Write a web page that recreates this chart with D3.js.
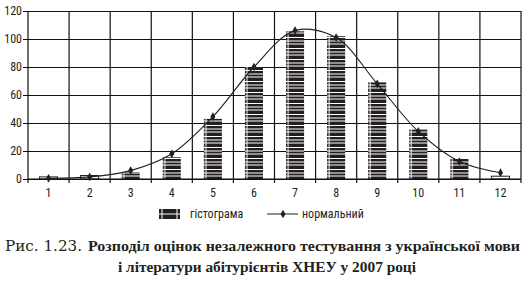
<!DOCTYPE html>
<html>
<head>
<meta charset="utf-8">
<script src="https://cdn.jsdelivr.net/npm/d3@7"></script>
<style>
  body { margin: 0; background: #fff; }
</style>
</head>
<body>
<svg id="chart"></svg>
<script>
const categories = ["1","2","3","4","5","6","7","8","9","10","11","12"];
const histValues = [1.5, 2.5, 5, 15.5, 43, 80, 105.5, 102, 69, 35.5, 15, 2];
const normalValues = [0.5, 1.5, 6, 18, 44.5, 80, 106, 101, 68, 34, 12.5, 4.5];
const yTicks = [0, 20, 40, 60, 80, 100, 120];
const legendLabels = ["гістограма", "нормальний"];
const captionNum = "Рис. 1.23.";
const captionLine1 = "Розподіл оцінок незалежного тестування з української мови";
const captionLine2 = "і літератури абітурієнтів ХНЕУ у 2007 році";

const W = 531, H = 286;
const margin = {top: 11, right: 10, bottom: 107, left: 28},
    width = W - margin.left - margin.right,
    height = H - margin.top - margin.bottom;
const axisFont = "'Liberation Sans Narrow', 'Roboto Condensed', Arial, sans-serif";

const svg = d3.select("#chart").attr("width", W).attr("height", H);

const x = d3.scaleBand().domain(categories).range([0, width]).padding(0);
const y = d3.scaleLinear().domain([0, 120]).range([height, 0]);
const step = x.step();
const barW = step * 0.44;

// hatch pattern: black with white grid strokes
const defs = svg.append("defs");
const pat = defs.append("pattern")
    .attr("id", "hatch")
    .attr("patternUnits", "userSpaceOnUse")
    .attr("width", step)
    .attr("height", 11)
    .attr("patternTransform", `translate(${margin.left}, ${margin.top + height})`);
pat.append("rect").attr("width", step).attr("height", 11).attr("fill", "#231f20");
[(step - barW) / 2 + 3, (step + barW) / 2 - 3].forEach(px => {
  pat.append("line").attr("x1", px).attr("x2", px).attr("y1", 0).attr("y2", 11)
    .attr("stroke", "#fff").attr("stroke-width", 1);
});
[1.5, 5, 8].forEach(py => {
  pat.append("line").attr("x1", 0).attr("x2", step).attr("y1", py).attr("y2", py)
    .attr("stroke", "#fff").attr("stroke-width", 1);
});

const g = svg.append("g").attr("transform", `translate(${margin.left}, ${margin.top})`);

// horizontal gridlines with short ticks on the left
g.append("g")
    .call(d3.axisLeft(y).tickValues(yTicks).tickSize(-width).tickPadding(6))
    .call(a => a.select(".domain").remove())
    .call(a => a.selectAll(".tick line").attr("x1", -5).attr("stroke", "#111").attr("stroke-width", 1.2))
    .call(a => a.selectAll("text").style("font-family", axisFont).style("font-size", "12px").attr("fill", "#231f20"));

// vertical gridlines at band edges
const edges = categories.map(c => x(c)).concat([width]);
g.append("g").selectAll("line").data(edges).join("line")
    .attr("x1", d => d).attr("x2", d => d)
    .attr("y1", 0).attr("y2", height + 4)
    .attr("stroke", "#111").attr("stroke-width", 1.2);

// bars
g.append("g").selectAll("rect").data(histValues).join("rect")
    .attr("x", (d, i) => x(categories[i]) + (step - barW) / 2)
    .attr("y", d => y(d))
    .attr("width", barW)
    .attr("height", d => height - y(d))
    .attr("fill", d => d < 3 ? "#fff" : "url(#hatch)")
    .attr("stroke", "#231f20")
    .attr("stroke-width", d => d < 3 ? 1 : 0);

// x axis baseline + labels
g.append("line").attr("x1", 0).attr("x2", width).attr("y1", height).attr("y2", height)
    .attr("stroke", "#111").attr("stroke-width", 1.2);
g.append("g").selectAll("text").data(categories).join("text")
    .attr("x", d => x(d) + step / 2)
    .attr("y", height + 18)
    .attr("text-anchor", "middle")
    .attr("fill", "#231f20")
    .style("font-family", axisFont).style("font-size", "12px")
    .text(d => d);

// normal curve
const line = d3.line()
    .x((d, i) => x(categories[i]) + step / 2)
    .y(d => y(d))
    .curve(d3.curveCatmullRom.alpha(0.5));
g.append("path").datum(normalValues)
    .attr("d", line).attr("fill", "none").attr("stroke", "#231f20").attr("stroke-width", 1.1);
const diamond = d3.symbol().type(d3.symbolDiamond).size(22);
g.append("g").selectAll("path").data(normalValues).join("path")
    .attr("d", diamond)
    .attr("transform", (d, i) => `translate(${x(categories[i]) + step / 2}, ${y(d)})`)
    .attr("fill", "#231f20");

// legend
const lg = svg.append("g").attr("transform", "translate(0, 214)");
lg.append("rect").attr("x", 159).attr("y", -5).attr("width", 21).attr("height", 10).attr("fill", "#231f20");
lg.append("line").attr("x1", 159).attr("x2", 180).attr("y1", 0).attr("y2", 0).attr("stroke", "#fff");
[162, 177].forEach(px => lg.append("line").attr("x1", px).attr("x2", px).attr("y1", -5).attr("y2", 5).attr("stroke", "#fff"));
lg.append("text").attr("x", 190).attr("y", 4).text(legendLabels[0])
    .attr("fill", "#231f20")
    .style("font-family", axisFont).style("font-size", "12px");
lg.append("line").attr("x1", 267).attr("x2", 298).attr("y1", 0).attr("y2", 0).attr("stroke", "#231f20");
lg.append("path").attr("d", diamond).attr("transform", "translate(283, 0)").attr("fill", "#231f20");
lg.append("text").attr("x", 302).attr("y", 4).text(legendLabels[1])
    .attr("fill", "#231f20")
    .style("font-family", axisFont).style("font-size", "12px");

// caption
const capFont = "'Liberation Serif', serif";
svg.append("text").attr("x", 5).attr("y", 251)
    .attr("textLength", 77).attr("lengthAdjust", "spacingAndGlyphs")
    .attr("fill", "#231f20")
    .style("font-family", "'DejaVu Serif', serif").style("font-size", "14px")
    .text(captionNum);
svg.append("text").attr("x", 88).attr("y", 251)
    .attr("textLength", 432).attr("lengthAdjust", "spacingAndGlyphs")
    .attr("font-weight", "bold").attr("fill", "#231f20")
    .style("font-family", capFont).style("font-size", "14.5px")
    .text(captionLine1);
svg.append("text").attr("x", 118).attr("y", 272)
    .attr("textLength", 298).attr("lengthAdjust", "spacingAndGlyphs")
    .attr("font-weight", "bold").attr("fill", "#231f20")
    .style("font-family", capFont).style("font-size", "14.5px")
    .text(captionLine2);
</script>
</body>
</html>
